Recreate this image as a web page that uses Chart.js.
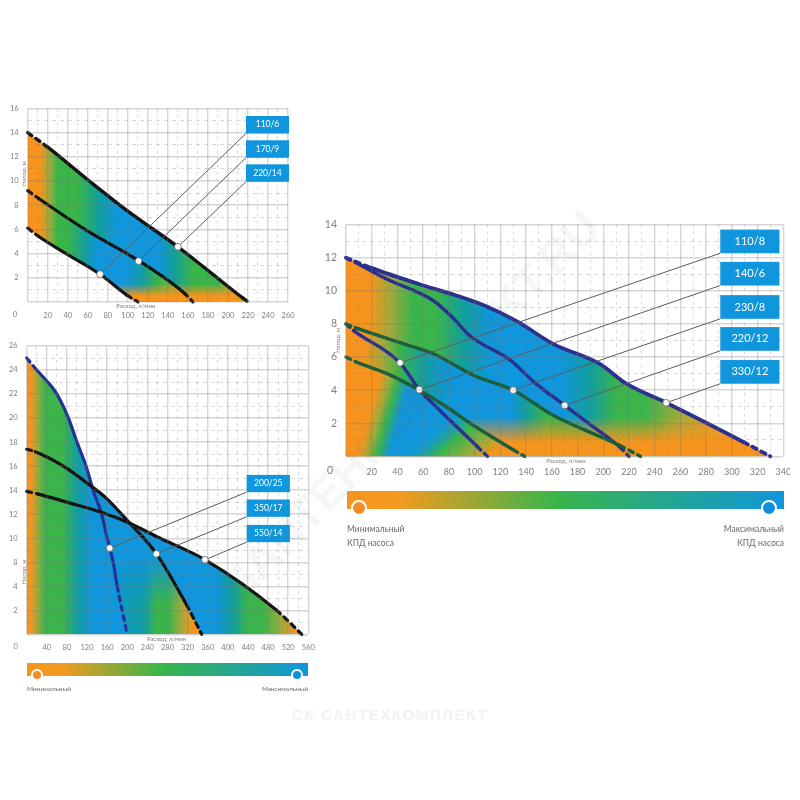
<!DOCTYPE html>
<html lang="ru">
<head>
<meta charset="utf-8">
<script src="https://cdn.jsdelivr.net/npm/chart.js@4"></script>
<style>
  html, body { margin: 0; background: #fff; }
  body { position: relative; width: 800px; height: 800px; overflow: hidden; font-family: Lato, sans-serif; }
  canvas { position: absolute; filter: blur(0.45px); }
  .bar { position: absolute; background: linear-gradient(90deg, #f7941d 0%, #f39a20 12%, #39b54a 48%, #0f96dc 100%); }
  .dot { position: absolute; border-radius: 50%; border: 2px solid #fff; box-sizing: border-box; }
  .cap { position: absolute; color: #6a6a6a; line-height: 14px; white-space: pre; filter: blur(0.3px); }
  .mark { position: absolute; pointer-events: none; white-space: nowrap; font-family: "Liberation Sans", sans-serif; font-weight: bold; }
</style>
</head>
<body>
<canvas id="small" width="300" height="225" style="left:0;top:98px"></canvas>
<canvas id="wide" width="320" height="325" style="left:0;top:335px"></canvas>
<canvas id="main" width="470" height="265" style="left:320px;top:215px"></canvas>

<div class="bar" style="left:347px;top:491px;width:437px;height:18px"></div>
<div class="dot" style="left:351px;top:500px;width:16px;height:16px;background:#f58c2a"></div>
<div class="dot" style="left:761px;top:500px;width:16px;height:16px;background:#0f8fdc"></div>
<div class="cap" style="left:347px;top:522px;font-size:8.5px">Минимальный
КПД насоса</div>
<div class="cap" style="right:16px;top:522px;font-size:8.5px;text-align:right">Максимальный
КПД насоса</div>

<div class="bar" style="left:27px;top:663px;width:281px;height:13px"></div>
<div class="dot" style="left:31px;top:669px;width:12px;height:12px;background:#f58c2a"></div>
<div class="dot" style="left:291px;top:669px;width:12px;height:12px;background:#0f8fdc"></div>
<div class="cap" style="left:27px;top:682px;font-size:6.5px">Минимальный</div>
<div class="cap" style="right:492px;top:682px;font-size:6.5px">Максимальный</div>

<div class="mark" style="left:292px;top:706px;font-size:15px;letter-spacing:1.6px;color:#f2f2f2">СК САНТЕХКОМПЛЕКТ</div>
<div class="mark" style="left:150px;top:379px;font-size:46px;color:rgba(110,110,110,.06);transform:rotate(-46deg)">SANTEHKOMPLEKT.RU</div>

<script>
// small chart: 110/6, 170/9, 220/14
const smallLowX = [0, 11, 40, 72, 99, 110];
const smallLowY = [6.1, 5.4, 3.9, 2.3, 0.55, 0];
const smallMidX = [0, 11, 60, 111, 156, 165];
const smallMidY = [9.2, 8.55, 5.85, 3.4, 0.75, 0];
const smallTopX = [0, 20, 60, 100, 150, 180, 215, 220];
const smallTopY = [14, 12.8, 10.1, 7.5, 4.55, 2.6, 0.3, 0];
const smallTicksX = [20, 40, 60, 80, 100, 120, 140, 160, 180, 200, 220, 240, 260];
const smallNames = ['110/6', '170/9', '220/14'];
const smallDutyX = [72.3, 110.7, 150];
const smallDutyY = [2.29, 3.37, 4.55];
const smallBoxX = [218, 218, 218];
const smallBoxY = [13.93, 11.92, 9.93];

// wide chart: 200/25, 350/17, 550/14. Axis labels skip 6, so values are read by grid row
const wideAX = [0, 20, 46, 60, 83, 100, 118, 132, 149, 160, 172, 180, 200];
const wideAY = [23, 22, 20.8, 20, 18, 16, 14, 12, 10, 8, 6, 4, 0];
const wideBX = [0, 17, 73, 126, 159, 205, 258, 318, 348];
const wideBY = [15.4, 15.2, 14, 12.4, 11.3, 9.25, 6.7, 2.44, 0];
const wideCX = [0, 23, 80, 146, 205, 258, 355, 497, 547];
const wideCY = [11.9, 11.67, 11, 10.2, 9.25, 8.14, 6.2, 2, 0];
const wideTicksX = [40, 80, 120, 160, 200, 240, 280, 320, 360, 400, 440, 480, 520, 560];
const wideTicksY = ['', '2', '4', '8', '10', '12', '14', '16', '18', '20', '22', '24', '26'];
const wideNames = ['200/25', '350/17', '550/14'];
const wideDutyX = [165, 258, 354.5];
const wideDutyY = [7.17, 6.7, 6.2];
const wideBoxX = [437.4, 437.4, 437.4];
const wideBoxY = [11.83, 9.78, 7.67];

// main chart: 110/8, 140/6, 230/8, 220/12, 330/12
const mainTopX = [0, 19, 57, 84, 109, 133, 161, 197, 218, 249, 309, 330];
const mainTopY = [12, 11.4, 10.4, 9.76, 9.07, 8.15, 6.8, 5.6, 4.39, 3.24, 0.87, 0];
const mainSecondX = [0, 10, 32, 68, 84, 96, 128, 146, 170, 187, 213, 220];
const mainSecondY = [12, 11.6, 10.7, 9.4, 8.3, 7.3, 5.8, 4.5, 3.08, 2.08, 0.56, 0];
const mainThirdX = [0, 6, 42, 57, 70, 102, 110];
const mainThirdY = [8, 7.6, 5.65, 4.03, 3, 0.6, 0];
const mainGreenHiX = [0, 10, 45, 68, 99, 130, 161, 213, 229];
const mainGreenHiY = [8, 7.7, 6.8, 6.2, 4.9, 4, 2.48, 0.66, 0];
const mainGreenLoX = [0, 8, 32, 57, 78, 99, 130, 139];
const mainGreenLoY = [6, 5.7, 5, 4, 3, 1.88, 0.4, 0];
const mainTicksX = [20, 40, 60, 80, 100, 120, 140, 160, 180, 200, 220, 240, 260, 280, 300, 320, 340];
const mainNames = ['110/8', '140/6', '230/8', '220/12', '330/12'];
const mainDutyX = [42, 57, 130, 170, 249];
const mainDutyY = [5.65, 4.03, 4, 3.08, 3.24];
const mainBoxX = [291, 291, 291, 291, 291];
const mainBoxY = [12.27, 10.32, 8.31, 6.38, 4.39];

const ORANGE = '#f7941d', OLIVE = '#9aab3c', GREEN = '#39b54a', TEAL = '#109f9f', BLUE = '#0f96dc';
const NAVY = '#2b2f8f', PINE = '#1b5e3a', INK = '#141414', TEXT = '#808080';
const CLEAR_ORANGE = 'rgba(247,148,29,0)', CLEAR_BLUE = 'rgba(15,150,220,0)';

const zip = (xs, ys) => xs.map((x, i) => ({ x, y: ys[i] }));

// gradient along a line given in data values, stops are [value along that line, colour]
function paint(line, stops) {
  return ctx => {
    const chart = ctx.chart;
    if (!chart.chartArea) return ORANGE;
    const { x, y } = chart.scales;
    const [x0, y0, x1, y1] = line;
    const g = chart.ctx.createLinearGradient(
      x.getPixelForValue(x0), y.getPixelForValue(y0),
      x.getPixelForValue(x1), y.getPixelForValue(y1));
    const span = stops[stops.length - 1][0];
    stops.forEach(s => g.addColorStop(s[0] / span, s[1]));
    return g;
  };
}
const across = (stops) => paint([0, 0, stops[stops.length - 1][0], 0], stops);
const upward = (stops) => paint([0, 0, 0, stops[stops.length - 1][0]], stops);

let layer = 0;
function area(xs, ys, color, target) {
  layer++;
  return {
    data: zip(xs, ys),
    borderWidth: 0,
    borderColor: 'transparent',
    backgroundColor: color,
    pointRadius: 0,
    cubicInterpolationMode: 'monotone',
    fill: target === undefined ? 'origin' : target === null ? false : { target },
    order: 200 - layer
  };
}

function curve(xs, ys, color, solidFrom, solidTo, width) {
  return {
    data: zip(xs, ys),
    borderColor: color,
    borderWidth: width,
    borderCapStyle: 'round',
    pointRadius: 0,
    cubicInterpolationMode: 'monotone',
    fill: false,
    clip: false,
    order: 2,
    segment: {
      borderDash: c => (c.p1.parsed.x <= solidFrom || c.p0.parsed.x >= solidTo) ? [5, 5] : undefined
    }
  };
}

function leaders(dutyX, dutyY, boxX, boxY) {
  return dutyX.map((x, i) => ({
    data: [{ x, y: dutyY[i] }, { x: boxX[i], y: boxY[i] }],
    borderColor: '#5c5c5c',
    borderWidth: 1,
    pointRadius: [3.4, 0],
    pointBackgroundColor: '#fff',
    pointBorderColor: '#666',
    pointBorderWidth: 0.8,
    fill: false,
    order: 1
  }));
}

function makeChart(id, setup) {
  const { xMax, xStep, xEvery, yMax, ticksY, datasets, frame, font, fontY, noteFont, names, boxX, boxY, boxW, boxH,
          xTitle, yTitle, yTitleGap, zeroGap, xPad } = setup;
  const family = 'Lato, sans-serif';
  const notes = {
    id: 'notes',
    afterDraw(chart) {
      const { ctx, scales: { x, y } } = chart;
      ctx.save();
      // boxes with the pump names
      names.forEach((name, i) => {
        const left = x.getPixelForValue(boxX[i]), bottom = y.getPixelForValue(boxY[i]);
        const w = x.getPixelForValue(boxX[i] + boxW) - left, h = bottom - y.getPixelForValue(boxY[i] + boxH);
        ctx.fillStyle = BLUE;
        ctx.fillRect(left, bottom - h, w, h);
        ctx.fillStyle = '#fff';
        ctx.font = noteFont + 'px ' + family;
        ctx.textAlign = 'center';
        ctx.textBaseline = 'middle';
        ctx.fillText(name, left + w / 2, bottom - h / 2);
      });
      ctx.fillStyle = TEXT;
      ctx.font = fontY + 'px ' + family;
      ctx.textAlign = 'center';
      ctx.fillText('0', x.left - zeroGap, x.top + xPad + font / 2);
      ctx.font = '6px ' + family;
      ctx.fillText('Расход, л/мин', x.getPixelForValue(xTitle), x.top + 4.5);
      ctx.translate(x.left - yTitleGap, y.getPixelForValue(yTitle));
      ctx.rotate(-Math.PI / 2);
      ctx.fillText('Напор, м', 0, 0);
      ctx.restore();
    }
  };
  return new Chart(document.getElementById(id), {
    type: 'line',
    data: { datasets },
    plugins: [notes],
    options: {
      responsive: false,
      animation: false,
      events: [],
      layout: { autoPadding: false, padding: { top: frame.top, right: frame.right, bottom: 0, left: 0 } },
      plugins: { legend: { display: false }, tooltip: { enabled: false } },
      scales: {
        x: {
          type: 'linear', min: 0, max: xMax,
          afterFit: s => { s.height = frame.bottom; s.paddingLeft = 0; s.paddingRight = 0; },
          border: { display: false, dash: c => (c.tick && c.tick.value % xEvery) ? [3, 4] : [] },
          grid: {
            z: 1, drawTicks: false,
            color: c => (c.tick.value % xEvery) ? 'rgba(120,120,120,.28)' : 'rgba(120,120,120,.3)',
            lineWidth: c => (c.tick.value % xEvery) ? 1 : 1.4
          },
          ticks: {
            stepSize: xStep, autoSkip: false, maxRotation: 0, padding: xPad, color: TEXT,
            font: { size: font, family },
            callback: v => setup.ticksX.includes(v) ? String(v) : ''
          }
        },
        y: {
          min: 0, max: yMax,
          afterFit: s => { s.width = frame.left; s.paddingTop = 0; s.paddingBottom = 0; },
          border: { display: false, dash: c => (c.tick && c.tick.value % 2) ? [4, 4] : [] },
          grid: {
            z: 1, drawTicks: false,
            color: c => (c.tick.value % 2) ? 'rgba(120,120,120,.28)' : 'rgba(120,120,120,.3)',
            lineWidth: c => (c.tick.value % 2) ? 1 : 1.4
          },
          ticks: {
            stepSize: 1, autoSkip: false, padding: 9, color: TEXT,
            font: { size: fontY, family },
            callback: v => ticksY ? (v % 2 ? '' : ticksY[v / 2]) : ((v % 2 || v === 0) ? '' : String(v))
          }
        }
      }
    }
  });
}

// ----- small chart
const smallUpper = across([[0, ORANGE], [12, ORANGE], [22, OLIVE], [30, GREEN], [50, GREEN], [72, TEAL], [90, BLUE],
  [130, BLUE], [145, TEAL], [165, GREEN], [190, GREEN], [205, OLIVE], [218, ORANGE]]);
const smallLower = across([[0, ORANGE], [12, ORANGE], [22, OLIVE], [30, GREEN], [40, GREEN], [58, TEAL], [68, BLUE],
  [100, BLUE], [115, TEAL], [130, GREEN], [150, OLIVE], [165, ORANGE]]);
const smallFloor = upward([[0, ORANGE], [0.45, ORANGE], [1.5, CLEAR_ORANGE]]);
makeChart('small', {
  xMax: 260, xStep: 10, xEvery: 20, yMax: 16, ticksX: smallTicksX, font: 7.5, fontY: 7.5, noteFont: 8.5, zeroGap: 12.5, xPad: 9,
  frame: { left: 27.7, top: 10.5, right: 12, bottom: 21.2 },
  names: smallNames, boxX: smallBoxX, boxY: smallBoxY, boxW: 43, boxH: 1.45, xTitle: 108, yTitle: 10.6, yTitleGap: 4,
  datasets: [
    // lower edge of the band, continued along the floor
    area(smallLowX.concat(220), smallLowY.concat(0), 'transparent', null),
    area(smallTopX, smallTopY, smallUpper, 0),
    area(smallMidX, smallMidY, smallLower, 0),
    area(smallTopX, smallTopY, smallFloor, 0),
    curve(smallLowX, smallLowY, INK, 11, 99, 3.2),
    curve(smallMidX, smallMidY, INK, 11, 156, 3.2),
    curve(smallTopX, smallTopY, INK, 20, 215, 3.4),
    ...leaders(smallDutyX, smallDutyY, smallBoxX, smallBoxY)
  ]
});

// ----- wide chart
const wideLeft = [[0, ORANGE], [8, ORANGE], [22, OLIVE], [36, GREEN], [72, GREEN], [100, TEAL], [130, BLUE]];
makeChart('wide', {
  xMax: 560, xStep: 20, xEvery: 40, yMax: 24, ticksX: wideTicksX, ticksY: wideTicksY, font: 7.5, fontY: 7.5, noteFont: 8.5, zeroGap: 11, xPad: 9,
  frame: { left: 26.7, top: 11, right: 11.7, bottom: 25.7 },
  names: wideNames, boxX: wideBoxX, boxY: wideBoxY, boxW: 86, boxH: 1.44, xTitle: 278, yTitle: 5.2, yTitleGap: 3,
  datasets: [
    area(wideCX, wideCY, across([...wideLeft, [375, BLUE], [410, TEAL], [440, GREEN], [470, GREEN], [505, OLIVE], [535, ORANGE]])),
    area(wideBX, wideBY, across([...wideLeft, [205, '#0d9cb8'], [235, TEAL], [258, GREEN], [282, GREEN], [305, OLIVE], [330, ORANGE]])),
    area(wideBX.filter(x => x >= 159), wideBY.slice(wideBX.indexOf(159)), upward([[0, CLEAR_BLUE], [2.5, CLEAR_BLUE], [6.5, BLUE]])),
    area(wideAX, wideAY, across([...wideLeft, [200, BLUE]])),
    curve(wideCX, wideCY, INK, 23, 497, 3.2),
    curve(wideBX, wideBY, INK, 17, 318, 3.2),
    curve(wideAX, wideAY, '#22309a', 20, 180, 3.2),
    ...leaders(wideDutyX, wideDutyY, wideBoxX, wideBoxY)
  ]
});

// ----- main chart
const mainFloor = upward([[0, ORANGE], [0.8, ORANGE], [2.4, CLEAR_ORANGE]]);
makeChart('main', {
  xMax: 340, xStep: 10, xEvery: 20, yMax: 14, ticksX: mainTicksX, font: 9, fontY: 10.5, noteFont: 11, zeroGap: 16, xPad: 10,
  frame: { left: 26, top: 9.6, right: 6.7, bottom: 23.6 },
  names: mainNames, boxX: mainBoxX, boxY: mainBoxY, boxW: 46, boxH: 1.43, xTitle: 171, yTitle: 7, yTitleGap: 8,
  datasets: [
    area(mainTopX, mainTopY, across([[0, ORANGE], [18, ORANGE], [36, OLIVE], [52, GREEN], [70, GREEN], [92, TEAL], [112, BLUE],
      [168, BLUE], [190, TEAL], [210, GREEN], [232, GREEN], [262, '#a8a838'], [290, '#e0a02a'], [310, ORANGE]])),
    area(mainTopX, mainTopY, mainFloor),
    area(mainGreenHiX, mainGreenHiY, across([[0, ORANGE], [14, ORANGE], [30, OLIVE], [42, GREEN], [60, TEAL], [80, BLUE],
      [128, BLUE], [140, TEAL], [155, GREEN], [190, GREEN], [210, OLIVE], [229, ORANGE]])),
    area(mainGreenHiX, mainGreenHiY, mainFloor),
    // fan under the lowest curve, its edges lean with the picture
    area(mainGreenLoX, mainGreenLoY, paint([9, 0, 31.5, -0.48], [[0, ORANGE], [0.35, OLIVE], [0.6, GREEN], [1, BLUE]])),
    area(mainGreenLoX, mainGreenLoY, paint([60, 1.33, 90, -1.4], [[0, CLEAR_BLUE], [0.42, GREEN], [0.75, OLIVE], [1, ORANGE]])),
    curve(mainGreenLoX, mainGreenLoY, PINE, 8, 130, 3.4),
    curve(mainGreenHiX, mainGreenHiY, PINE, 10, 213, 3.4),
    curve(mainThirdX, mainThirdY, NAVY, 6, 102, 3.4),
    curve(mainSecondX, mainSecondY, NAVY, 10, 213, 3.4),
    curve(mainTopX, mainTopY, NAVY, 19, 309, 3.8),
    ...leaders(mainDutyX, mainDutyY, mainBoxX, mainBoxY)
  ]
});
</script>
</body>
</html>
